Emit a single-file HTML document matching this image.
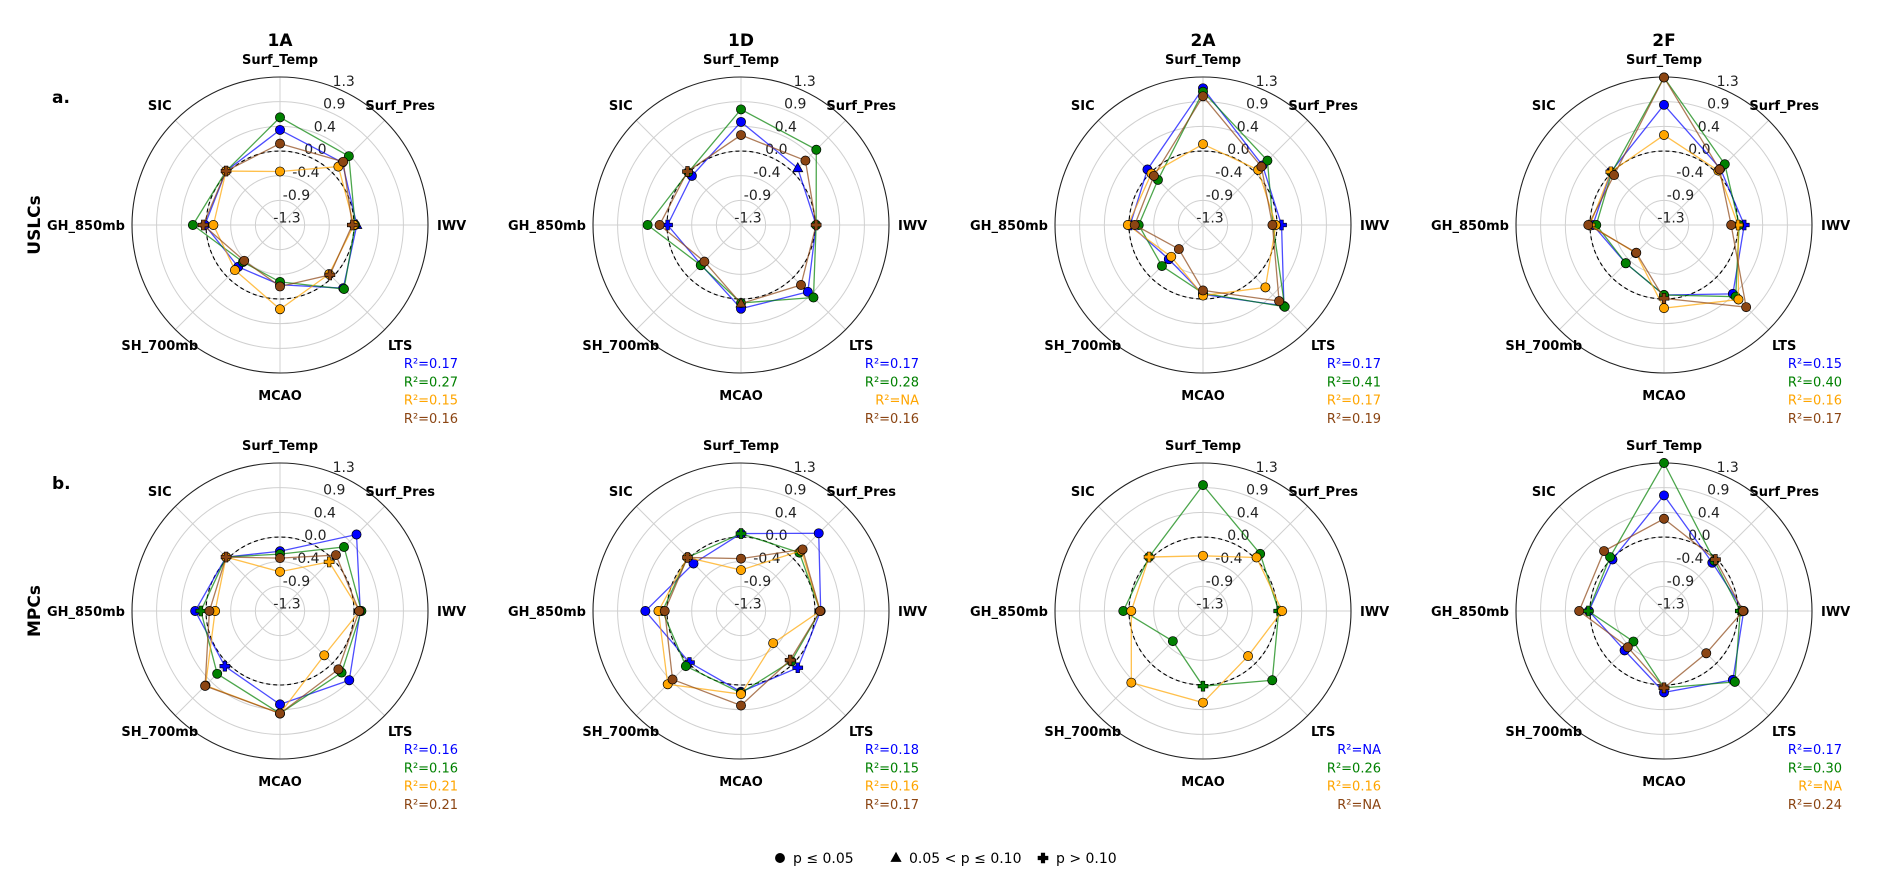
<!DOCTYPE html>
<html><head><meta charset="utf-8">
<style>
html,body{margin:0;padding:0;background:#fff;}
svg{display:block;font-family:"DejaVu Sans","Liberation Sans",sans-serif;}
</style></head>
<body>
<svg id="fig" width="1892" height="888" viewBox="0 0 1892 888" xmlns="http://www.w3.org/2000/svg"></svg>
<script>
// ---- data ----
const categories = ["Surf_Temp","Surf_Pres","IWV","LTS","MCAO","SH_700mb","GH_850mb","SIC"];
const tickValues = [-1.3,-0.867,-0.433,0.0,0.433,0.867,1.3];
const tickLabels = ["-1.3","-0.9","-0.4","0.0","0.4","0.9","1.3"];
const columnTitles = ["1A","1D","2A","2F"];
const rowTitles = ["USLCs","MPCs"];
const seriesColors = ["#0000ff","#008000","#ffa500","#8b4513"];

const a1A_blue   = [0.37, 0.25, 0.05, 0.27, -0.25, -0.26, 0.02, 0.04];
const a1A_green  = [0.59, 0.41, 0.02, 0.29, -0.30, -0.38, 0.23, 0.04];
const a1A_orange = [-0.36, 0.15, 0.00, -0.08, 0.18, -0.18, -0.13, 0.04];
const a1A_brown  = [0.13, 0.27, -0.03, -0.06, -0.22, -0.41, 0.05, 0.04];
const a1D_blue   = [0.51, 0.11, 0.02, 0.36, 0.17, -0.31, -0.01, -0.08];
const a1D_green  = [0.73, 0.57, 0.02, 0.50, 0.07, -0.30, 0.34, 0.01];
const a1D_orange = null;
const a1D_brown  = [0.28, 0.30, 0.02, 0.19, 0.08, -0.39, 0.13, 0.03];
const a2A_blue   = [1.10, 0.18, 0.08, 0.71, -0.08, -0.45, -0.02, 0.08];
const a2A_green  = [1.04, 0.30, -0.07, 0.73, -0.10, -0.28, -0.17, -0.18];
const a2A_orange = [0.12, 0.07, -0.02, 0.25, -0.06, -0.51, 0.02, -0.02];
const a2A_brown  = [0.96, 0.15, -0.08, 0.59, -0.15, -0.70, -0.10, -0.08];
const a2F_blue   = [0.81, 0.10, 0.11, 0.41, -0.07, -0.35, -0.05, 0.02];
const a2F_green  = [1.29, 0.21, 0.02, 0.48, -0.07, -0.35, -0.11, 0.00];
const a2F_orange = [0.28, 0.05, 0.00, 0.55, 0.16, -0.60, 0.00, 0.02];
const a2F_brown  = [1.29, 0.08, -0.12, 0.74, -0.01, -0.61, 0.03, -0.06];
const b1A_blue   = [-0.25, 0.60, 0.11, 0.42, 0.34, 0.07, 0.19, 0.04];
const b1A_green  = [-0.30, 0.29, 0.13, 0.23, 0.50, 0.26, 0.09, 0.04];
const b1A_orange = [-0.61, -0.08, 0.10, -0.20, 0.50, 0.55, -0.16, 0.04];
const b1A_brown  = [-0.37, 0.09, 0.09, 0.15, 0.50, 0.56, -0.06, 0.04];
const b1D_blue   = [0.06, 0.63, 0.10, 0.11, 0.12, -0.02, 0.38, -0.12];
const b1D_green  = [0.06, 0.15, 0.09, -0.05, 0.14, 0.07, 0.08, 0.03];
const b1D_orange = [-0.58, 0.20, 0.09, -0.50, 0.16, 0.52, 0.15, 0.03];
const b1D_brown  = [-0.38, 0.23, 0.09, -0.08, 0.36, 0.40, 0.04, 0.03];
const b2A_blue   = null;
const b2A_green  = [0.91, 0.12, 0.03, 0.42, 0.02, -0.55, 0.10, 0.04];
const b2A_orange = [-0.33, 0.03, 0.09, -0.18, 0.31, 0.48, -0.04, 0.04];
const b2A_brown  = null;
const b2F_blue   = [0.73, -0.10, 0.10, 0.41, 0.13, -0.32, 0.02, -0.02];
const b2F_green  = [1.30, -0.05, 0.04, 0.46, 0.05, -0.54, 0.03, 0.04];
const b2F_orange = null;
const b2F_brown  = [0.32, -0.02, 0.09, -0.25, 0.05, -0.40, 0.19, 0.19];

// marker codes: o circle (p<=0.05), ^ triangle, + plus
const markA1A = ["oo^ooooo","oooooooo","oooooooo","oo++oo++"];
const markA1D = ["o^oooo+o","oooooooo","oooooooo","oo+o^oo+"];
const markA2A = ["oo+ooo+o","oooooooo","oooooooo","oooooooo"];
const markA2F = ["oo+ooooo","oooooooo","oo+ooo++","oooo+ooo"];
const markB1A = ["ooooo+oo","oooooo+o","o+oooooo","ooooooo+"];
const markB1D = ["ooo+o+oo","+ooooooo","oooooooo","ooo+ooo+"];
const markB2A = ["oooooooo","oo+o+ooo","ooooooo+","oooooooo"];
const markB2F = ["oooooooo","oo+o+o+o","oooooooo","o+oo+ooo"];

const r2A1A = ["0.17","0.27","0.15","0.16"];
const r2A1D = ["0.17","0.28","NA","0.16"];
const r2A2A = ["0.17","0.41","0.17","0.19"];
const r2A2F = ["0.15","0.40","0.16","0.17"];
const r2B1A = ["0.16","0.16","0.21","0.21"];
const r2B1D = ["0.18","0.15","0.16","0.17"];
const r2B2A = ["NA","0.26","0.16","NA"];
const r2B2F = ["0.17","0.30","NA","0.24"];

const panels = [
  {row:0,col:0,s:[a1A_blue,a1A_green,a1A_orange,a1A_brown],m:markA1A,r2:r2A1A},
  {row:0,col:1,s:[a1D_blue,a1D_green,a1D_orange,a1D_brown],m:markA1D,r2:r2A1D},
  {row:0,col:2,s:[a2A_blue,a2A_green,a2A_orange,a2A_brown],m:markA2A,r2:r2A2A},
  {row:0,col:3,s:[a2F_blue,a2F_green,a2F_orange,a2F_brown],m:markA2F,r2:r2A2F},
  {row:1,col:0,s:[b1A_blue,b1A_green,b1A_orange,b1A_brown],m:markB1A,r2:r2B1A},
  {row:1,col:1,s:[b1D_blue,b1D_green,b1D_orange,b1D_brown],m:markB1D,r2:r2B1D},
  {row:1,col:2,s:[b2A_blue,b2A_green,b2A_orange,b2A_brown],m:markB2A,r2:r2B2A},
  {row:1,col:3,s:[b2F_blue,b2F_green,b2F_orange,b2F_brown],m:markB2F,r2:r2B2F}
];

// ---- layout ----
const NS = "http://www.w3.org/2000/svg";
const svg = document.getElementById("fig");
const colX = [280, 741, 1203, 1664];
const rowY = [225, 611];
const R0 = 74, RUNIT = 57, RMAX = 148;
function rScale(v){ return Math.min(RMAX, Math.max(0, R0 + RUNIT * v)); }
function angleOf(i){ return -Math.PI/2 + i * Math.PI/4; }
function mk(tag, attrs, parent){
  const e = document.createElementNS(NS, tag);
  for (const k in attrs) e.setAttribute(k, attrs[k]);
  (parent || svg).appendChild(e);
  return e;
}
function txt(str, attrs, parent){ const t = mk("text", attrs, parent); t.textContent = str; return t; }

// titles
columnTitles.forEach((t,i)=>{
  const e = txt(t,{x:colX[i],y:46,"text-anchor":"middle","font-size":17,"font-weight":"bold"});
  
  
});
rowTitles.forEach((t,i)=>{
  const e = txt(t,{x:0,y:0,transform:`translate(40,${rowY[i]}) rotate(-90)`,"text-anchor":"middle","font-size":17,"font-weight":"bold"});
  
  
});
["a.","b."].forEach((t,i)=>{
  const e = txt(t,{x:52,y:rowY[i]-122,"font-size":17,"font-weight":"bold"});
  
  
});

function markerShape(code, x, y, color, g){
  let e;
  if (code === "^") {
    e = mk("polygon",{points:`${x},${y-5.5} ${x-5},${y+3.5} ${x+5},${y+3.5}`,fill:color,stroke:"#000","stroke-width":0.7},g);
  } else if (code === "+") {
    const a=1.8,b=5;
    e = mk("polygon",{points:`${x-a},${y-b} ${x+a},${y-b} ${x+a},${y-a} ${x+b},${y-a} ${x+b},${y+a} ${x+a},${y+a} ${x+a},${y+b} ${x-a},${y+b} ${x-a},${y+a} ${x-b},${y+a} ${x-b},${y-a} ${x-a},${y-a}`,fill:color,stroke:"#000","stroke-width":0.6},g);
  } else {
    e = mk("circle",{cx:x,cy:y,r:4.6,fill:color,stroke:"#000","stroke-width":0.7},g);
  }
  return e;
}

const seriesNames = ["blue","green","orange","brown"];
panels.forEach(p=>{
  const cx = colX[p.col], cy = rowY[p.row];
  const g = mk("g",{});
  
  
  // rings
  tickValues.forEach((tv,i)=>{
    if (i===0) return;
    const r = rScale(tv);
    if (i === tickValues.length-1) return;
    mk("circle",{cx,cy,r,fill:"none",stroke:"#d0d0d0","stroke-width":1},g);
  });
  // spokes
  categories.forEach((c,i)=>{
    const a = angleOf(i);
    mk("line",{x1:cx,y1:cy,x2:cx+RMAX*Math.cos(a),y2:cy+RMAX*Math.sin(a),stroke:"#d0d0d0","stroke-width":1},g);
  });
  const outer = mk("circle",{cx,cy,r:RMAX,fill:"none",stroke:"#222","stroke-width":1.1},g);
  
  
  const zero = mk("circle",{cx,cy,r:rScale(0),fill:"none",stroke:"#000","stroke-width":1.1,"stroke-dasharray":"4,3"},g);
  
  
  // tick labels
  const la = -Math.PI/2 + Math.PI/8;
  tickValues.forEach((tv,i)=>{
    const r = rScale(tv) + 8;
    const t = txt(tickLabels[i],{x:cx + r*Math.cos(la)+4, y:cy + r*Math.sin(la)+5,"text-anchor":"middle","font-size":14,fill:"#222"},g);
    
    
  });
  // category labels
  categories.forEach((c,i)=>{
    const a = angleOf(i);
    let x, y, anchor="middle";
    if (i===0){ x=cx; y=cy-166+5; }
    else if (i===4){ x=cx; y=cy+170+5; }
    else if (i===2){ x=cx+157; y=cy+5; anchor="start"; }
    else if (i===6){ x=cx-155; y=cy+5; anchor="end"; }
    else { x=cx+170*Math.cos(a); y=cy+170*Math.sin(a)+5; }
    const t = txt(c,{x,y,"text-anchor":anchor,"font-size":13,"font-weight":"bold"},g);
    
    
  });
  // series
  p.s.forEach((vals,si)=>{
    if (!vals) return;
    const pts = vals.map((v,i)=>{ const a=angleOf(i), r=rScale(v); return [cx+r*Math.cos(a), cy+r*Math.sin(a)]; });
    const poly = mk("polygon",{points:pts.map(q=>q.join(",")).join(" "),fill:"none",stroke:seriesColors[si],"stroke-width":1.3,"stroke-opacity":0.7},g);
    
    
    pts.forEach((q,i)=>{
      const e = markerShape(p.m[si][i], q[0], q[1], seriesColors[si], g);
      
      
    });
  });
  // R2 labels
  p.r2.forEach((v,si)=>{
    const t = txt("R\u00b2=" + v,{x:cx+178,y:cy+143+si*18.3,"text-anchor":"end","font-size":13,fill:seriesColors[si]},g);
    
    
  });
});

// legend
const lg = mk("g",{});


const legendCodes = ["o","^","+"];
const legendText = ["p \u2264 0.05","0.05 < p \u2264 0.10","p > 0.10"];
const legendX = [780, 896, 1043];
legendCodes.forEach((c,i)=>{
  const m = markerShape(c, legendX[i], 858, "#000", lg);
  
  
  const t = txt(legendText[i],{x:legendX[i]+13,y:863,"font-size":14},lg);
  
  
});
</script>
</body></html>
